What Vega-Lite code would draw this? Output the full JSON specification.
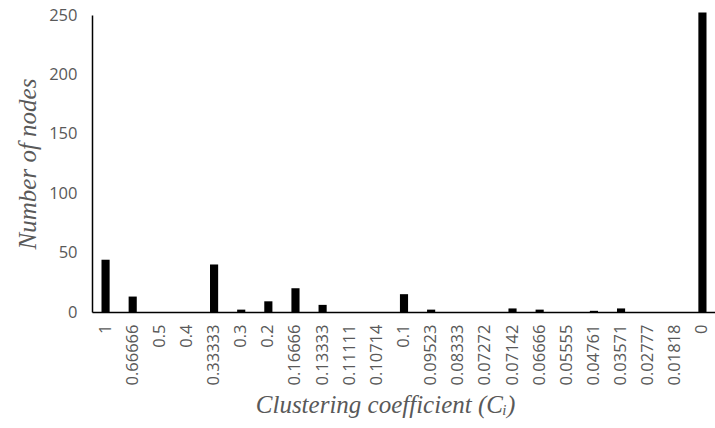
{
  "$schema": "https://vega.github.io/schema/vega-lite/v6.json",
  "width": 623,
  "height": 297,
  "autosize": "none",
  "padding": {"left": 92, "top": 15, "right": 0, "bottom": 116},
  "background": "white",
  "config": {"view": {"stroke": null}},
  "data": {
    "values": [
      {"coefficient": "1", "nodes": 44},
      {"coefficient": "0.66666", "nodes": 13},
      {"coefficient": "0.5", "nodes": 0},
      {"coefficient": "0.4", "nodes": 0},
      {"coefficient": "0.33333", "nodes": 40},
      {"coefficient": "0.3", "nodes": 2},
      {"coefficient": "0.2", "nodes": 9},
      {"coefficient": "0.16666", "nodes": 20},
      {"coefficient": "0.13333", "nodes": 6},
      {"coefficient": "0.11111", "nodes": 0},
      {"coefficient": "0.10714", "nodes": 0},
      {"coefficient": "0.1", "nodes": 15},
      {"coefficient": "0.09523", "nodes": 2},
      {"coefficient": "0.08333", "nodes": 0},
      {"coefficient": "0.07272", "nodes": 0},
      {"coefficient": "0.07142", "nodes": 3},
      {"coefficient": "0.06666", "nodes": 2},
      {"coefficient": "0.05555", "nodes": 0},
      {"coefficient": "0.04761", "nodes": 1},
      {"coefficient": "0.03571", "nodes": 3},
      {"coefficient": "0.02777", "nodes": 0},
      {"coefficient": "0.01818", "nodes": 0},
      {"coefficient": "0", "nodes": 252}
    ]
  },
  "mark": {"type": "bar", "color": "black"},
  "encoding": {
    "x": {
      "field": "coefficient",
      "type": "nominal",
      "sort": null,
      "scale": {"range": [0, 624], "paddingInner": 0.7, "paddingOuter": 0.35},
      "axis": {
        "title": "Clustering coefficient (Cᵢ)",
        "titleFont": "Liberation Serif",
        "titleFontStyle": "italic",
        "titleFontWeight": "normal",
        "titleFontSize": 25,
        "titleColor": "#595959",
        "titlePadding": 8,
        "titleX": 293,
        "labelAngle": -90,
        "labelFont": "Open Sans",
        "labelFontSize": 16.5,
        "labelColor": "#595959",
        "labelPadding": 12,
        "ticks": false,
        "domainColor": "black",
        "domainWidth": 1.5
      }
    },
    "y": {
      "field": "nodes",
      "type": "quantitative",
      "scale": {"domain": [0, 250], "nice": false},
      "axis": {
        "values": [0, 50, 100, 150, 200, 250],
        "title": "Number of nodes",
        "titleFont": "Liberation Serif",
        "titleFontStyle": "italic",
        "titleFontWeight": "normal",
        "titleFontSize": 25,
        "titleColor": "#595959",
        "titlePadding": 8,
        "labelFont": "Open Sans",
        "labelFontSize": 16.5,
        "labelColor": "#595959",
        "labelPadding": 15,
        "ticks": false,
        "grid": false,
        "domainColor": "black",
        "domainWidth": 1.5
      }
    }
  }
}
